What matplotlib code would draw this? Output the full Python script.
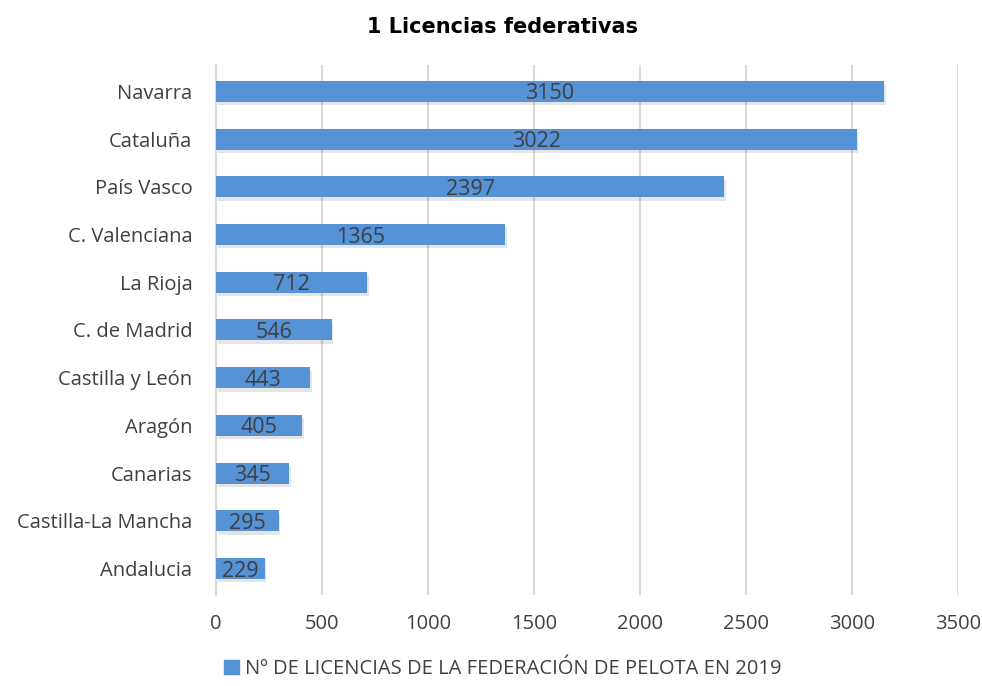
import matplotlib
matplotlib.use("Agg")
import matplotlib.pyplot as plt
from matplotlib.patches import Patch

regions = ["Navarra", "Cataluña", "País Vasco", "C. Valenciana", "La Rioja",
           "C. de Madrid", "Castilla y León", "Aragón", "Canarias",
           "Castilla-La Mancha", "Andalucia"]
licencias = [3150, 3022, 2397, 1365, 712, 546, 443, 405, 345, 295, 229]
x_ticks = [0, 500, 1000, 1500, 2000, 2500, 3000, 3500]
series_name = "Nº DE LICENCIAS DE LA FEDERACIÓN DE PELOTA EN 2019"

txt = "#404040"
bar_col = "#5592d6"
plt.rcParams["font.family"] = ["Open Sans", "DejaVu Sans"]

fig = plt.figure(figsize=(9.82, 6.86), dpi=100)
ax = fig.add_axes([0.22, 0.133, 0.7556, 0.772])

y = list(range(len(regions)))
bars = ax.barh(y, licencias, height=0.44, color=bar_col, zorder=3)
# soft shadow under bars
ax.barh([v + 0.07 for v in y], licencias, height=0.44, left=8,
        color="#000000", alpha=0.10, zorder=2)
for b, v in zip(bars, licencias):
    ax.text(b.get_width() / 2, b.get_y() + b.get_height() / 2, str(v),
            ha="center", va="center_baseline", fontsize=15.5, color=txt,
            zorder=4)

ax.set_xlim(0, 3500)
ax.set_ylim(len(regions) - 0.45, -0.55)
ax.set_yticks(y)
ax.set_yticklabels(regions, fontsize=14.5, color=txt)
ax.set_xticks(x_ticks)
ax.set_xticklabels([str(t) for t in x_ticks], fontsize=14.5, color=txt)
ax.tick_params(length=0)
ax.tick_params(axis="y", pad=17)
ax.tick_params(axis="x", pad=14)
ax.grid(axis="x", color="#d9d9d9", linewidth=1.5, zorder=0)
for s in ["top", "right", "bottom"]:
    ax.spines[s].set_visible(False)
ax.spines["left"].set_color("#d9d9d9")
ax.spines["left"].set_linewidth(1.5)

fig.suptitle("1 Licencias federativas", x=0.512, y=0.975, fontsize=15,
             fontweight="bold", family="DejaVu Sans", color="black")

fig.legend(handles=[Patch(color=bar_col, label=series_name)],
           loc="lower center", bbox_to_anchor=(0.512, -0.016), frameon=False,
           fontsize=14.5, labelcolor=txt, handlelength=0.7, handleheight=0.7,
           handletextpad=0.3)

fig.savefig("out.png", dpi=100)
